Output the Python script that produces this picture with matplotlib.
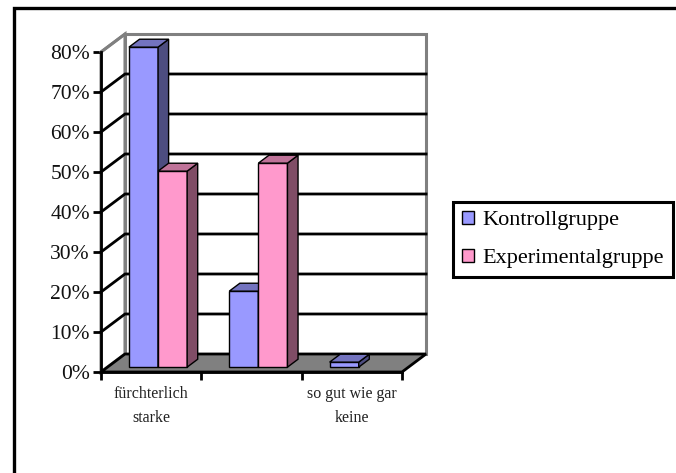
import matplotlib
matplotlib.use('Agg')
import matplotlib.pyplot as plt
from matplotlib.lines import Line2D
from matplotlib.patches import Polygon, Rectangle

categories = ['fürchterlich\nstarke', '', 'so gut wie gar\nkeine']
kontroll = [80, 19, 1.25]
experimental = [49, 51, 0]
percent_ticks = [0, 10, 20, 30, 40, 50, 60, 70, 80]
series_names = ['Kontrollgruppe', 'Experimentalgruppe']

# face, side, top shades of each series
blue = ('#9999FF', '#4D4D80', '#7373BF')
pink = ('#FF99CC', '#804D66', '#BF7399')

W, H = 676, 473
plt.rcParams['font.family'] = ['Liberation Serif', 'DejaVu Serif']

fig = plt.figure(figsize=(W / 100, H / 100), dpi=100)
# axes rectangle is the front plane of the 3d box
ax = fig.add_axes([101 / W, 1 - 372 / H, 301 / W, 320 / H])
ax.set_xlim(0, 3)
ax.set_ylim(0, 80)
ax.patch.set_visible(False)

# depth of the box, in data units per unit of depth
dx, dy = 24 / 100.33, 18 / 4.0


def p(x, y, d=0.0):
    return (x + d * dx, y + d * dy)


def poly(points, **kw):
    kw.setdefault('linewidth', 1)
    kw.setdefault('edgecolor', 'black')
    ax.add_patch(Polygon(points, closed=True, clip_on=False, **kw))


# left wall, back wall, floor
poly([p(0, 0), p(0, 80), p(0, 80, 1), p(0, 0, 1)], facecolor='white', edgecolor='#808080', linewidth=2.2, zorder=1)
poly([p(0, 0, 1), p(0, 80, 1), p(3, 80, 1), p(3, 0, 1)], facecolor='white', edgecolor='#808080', linewidth=2.2, zorder=1)
poly([p(0, 0), p(3, 0), p(3, 0, 1), p(0, 0, 1)], facecolor='#808080', edgecolor='black', linewidth=2, zorder=2)

# gridlines on both walls
for t in percent_ticks[1:-1]:
    ax.plot(*zip(p(0, t), p(0, t, 1), p(3, t, 1)), color='black', lw=2, clip_on=False, zorder=2, solid_joinstyle='miter')
ax.plot(*zip(p(0, 80), p(0, 80, 1)), color='#808080', lw=2, clip_on=False, zorder=2)

# bars sit in the middle of the depth
d0, d1 = 0.27, 0.71
bar_w = 0.29
for i in range(len(categories)):
    for k, (vals, cols) in enumerate([(kontroll, blue), (experimental, pink)]):
        v = vals[i]
        if v <= 0:
            continue
        x0 = i + 0.214 + k * bar_w
        x1 = x0 + bar_w
        z = 5 + k
        poly([p(x0, 0, d0), p(x0, v, d0), p(x1, v, d0), p(x1, 0, d0)], facecolor=cols[0], zorder=z)
        poly([p(x1, 0, d0), p(x1, v, d0), p(x1, v, d1), p(x1, 0, d1)], facecolor=cols[1], zorder=z)
        poly([p(x0, v, d0), p(x1, v, d0), p(x1, v, d1), p(x0, v, d1)], facecolor=cols[2], zorder=z)

for s in ['top', 'right']:
    ax.spines[s].set_visible(False)
for s in ['left', 'bottom']:
    ax.spines[s].set_linewidth(2)
    ax.spines[s].set_zorder(4)

ax.set_yticks(percent_ticks)
ax.set_yticklabels(['%d%%' % t for t in percent_ticks], fontsize=15.5, color='#111111')
ax.tick_params(axis='y', length=6, width=2, pad=2)
ax.set_xticks([0, 1, 2, 3])
ax.set_xticklabels([])
ax.tick_params(axis='x', length=6, width=2)
ax.set_xticks([0.5, 1.5, 2.5], minor=True)
ax.set_xticklabels(categories, minor=True, fontsize=11.5, linespacing=1.7, color='#222222')
ax.tick_params(axis='x', which='minor', length=0, pad=10)

# legend box
handles = [Rectangle((0, 0), 1, 1, facecolor=blue[0], edgecolor='black'),
           Rectangle((0, 0), 1, 1, facecolor=pink[0], edgecolor='black')]
leg = fig.legend(handles, series_names, loc='upper left', bbox_to_anchor=(453 / W, 1 - 202 / H),
                 fontsize=16, frameon=True, fancybox=False, edgecolor='black', framealpha=1,
                 handlelength=0.54, handleheight=0.54, handletextpad=0.4, borderpad=0.4,
                 labelspacing=0.83, borderaxespad=0)
leg.get_frame().set_linewidth(2.2)

# outer frame, only its left and top edges fall inside the canvas
fig.add_artist(Line2D([13.5 / W, 13.5 / W, 1], [0, 1 - 8.5 / H, 1 - 8.5 / H], transform=fig.transFigure,
                      color='black', linewidth=2.4, solid_joinstyle='miter'))

fig.savefig('out.png', dpi=100)
